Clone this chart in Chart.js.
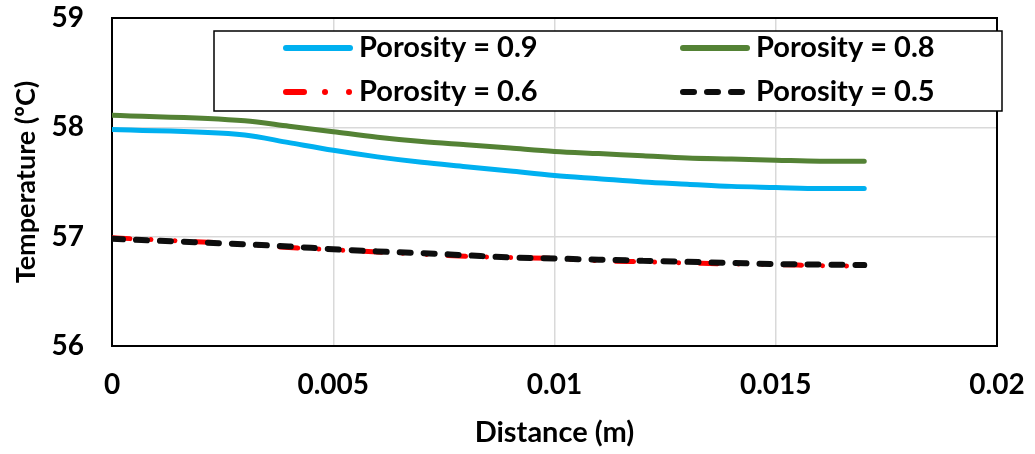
<!DOCTYPE html>
<html>
<head>
<meta charset="utf-8">
<script src="https://cdn.jsdelivr.net/npm/chart.js@4/dist/chart.umd.min.js"></script>
<style>
  html, body { margin: 0; padding: 0; background: #fff; }
  #wrap { width: 1035px; height: 454px; }
</style>
</head>
<body>
<div id="wrap"><canvas id="grafica" width="1035" height="454"></canvas></div>
<script>
// distancia (m)
const distancias = [0, 0.003, 0.004, 0.005, 0.006, 0.007, 0.008, 0.009, 0.010, 0.011, 0.012, 0.013, 0.014, 0.015, 0.016, 0.017];

// temperaturas (ºC)
const poro09 = [57.98, 57.93, 57.86, 57.79, 57.73, 57.68, 57.64, 57.60, 57.56, 57.53, 57.50, 57.48, 57.46, 57.45, 57.44, 57.44];
const poro08 = [58.11, 58.06, 58.01, 57.96, 57.91, 57.87, 57.84, 57.81, 57.78, 57.76, 57.74, 57.72, 57.71, 57.70, 57.69, 57.69];
const poro06 = [56.99, 56.93, 56.90, 56.88, 56.86, 56.84, 56.82, 56.81, 56.80, 56.78, 56.77, 56.76, 56.75, 56.745, 56.735, 56.73];
const poro05 = [56.98, 56.93, 56.91, 56.885, 56.865, 56.85, 56.83, 56.81, 56.80, 56.79, 56.78, 56.77, 56.76, 56.75, 56.745, 56.74];

const etiquetas = ["Porosity = 0.9", "Porosity = 0.8", "Porosity = 0.6", "Porosity = 0.5"];
const xTicks = [0, 0.005, 0.01, 0.015, 0.02];
const yTicks = [56, 57, 58, 59];

const colores = ["#00b0f0", "#548235", "#ff0000", "#0d0d0d"];
const grosores = [5, 5, 5, 6];
const guiones = [[], [], [18, 21, 0.01, 24, 0.01, 21], [11, 13]];

function puntos(valores) {
    return distancias.map((x, i) => ({ x: x, y: valores[i] }));
}

Chart.defaults.font.family = "Lato";
Chart.defaults.font.weight = "bold";
Chart.defaults.color = "#000";

// caja de leyenda y marco del area de trazado
const marcoYLeyenda = {
    id: "marcoYLeyenda",
    beforeDatasetsDraw(chart) {
        const a = chart.chartArea;
        const ctx = chart.ctx;
        ctx.save();
        ctx.strokeStyle = "#000";
        ctx.lineWidth = 2;
        ctx.strokeRect(a.left, a.top, a.right - a.left, a.bottom - a.top);
        ctx.restore();
    },
    afterDatasetsDraw(chart) {
        const ctx = chart.ctx;
        ctx.save();
        ctx.fillStyle = "#fff";
        ctx.fillRect(214, 31, 788, 80);
        ctx.strokeStyle = "#000";
        ctx.lineWidth = 1.5;
        ctx.strokeRect(214, 31, 788, 80);

        const cols = [283, 680];
        const filas = [48, 92];
        chart.data.datasets.forEach((ds, i) => {
            const x = cols[i % 2];
            const y = filas[Math.floor(i / 2)];
            ctx.beginPath();
            ctx.strokeStyle = ds.borderColor;
            ctx.lineWidth = 6;
            ctx.lineCap = "round";
            ctx.setLineDash(ds.borderDash || []);
            ctx.moveTo(x + 3, y);
            ctx.lineTo(x + 67, y);
            ctx.stroke();
            ctx.setLineDash([]);
            ctx.fillStyle = "#000";
            ctx.font = "bold 29px Lato";
            ctx.textBaseline = "middle";
            ctx.textAlign = "left";
            ctx.fillText(ds.label, x + 76, y);
        });
        ctx.restore();
    }
};

const ctx = document.getElementById("grafica").getContext("2d");

new Chart(ctx, {
    type: "line",
    data: {
        datasets: [poro09, poro08, poro06, poro05].map((serie, i) => ({
            label: etiquetas[i],
            data: puntos(serie),
            borderColor: colores[i],
            backgroundColor: colores[i],
            borderWidth: grosores[i],
            borderDash: guiones[i],
            borderCapStyle: "round",
            pointRadius: 0,
            cubicInterpolationMode: "monotone",
            order: [2, 3, 1, 0][i]
        }))
    },
    options: {
        responsive: false,
        animation: false,
        layout: { padding: { top: 18, right: 38, left: 0, bottom: 0 } },
        plugins: {
            legend: { display: false },
            tooltip: { enabled: false }
        },
        scales: {
            x: {
                type: "linear",
                min: 0,
                max: 0.02,
                afterBuildTicks: s => { s.ticks = xTicks.map(v => ({ value: v })); },
                afterFit: s => { s.height = 108; s.paddingLeft = 0; s.paddingRight = 0; },
                ticks: {
                    padding: 22,
                    font: { size: 28, weight: "bold" },
                    callback: v => String(v)
                },
                grid: { color: "#d9d9d9", lineWidth: 1.5, drawTicks: false },
                border: { display: false },
                title: {
                    display: true,
                    text: "Distance (m)",
                    font: { size: 29, weight: "bold" },
                    padding: { top: 0, bottom: 4 }
                }
            },
            y: {
                min: 56,
                max: 59,
                afterBuildTicks: s => { s.ticks = yTicks.map(v => ({ value: v })); },
                afterFit: s => { s.width = 112; s.paddingTop = 0; s.paddingBottom = 0; },
                ticks: {
                    padding: 28,
                    font: { size: 28, weight: "bold" },
                    callback: v => String(v)
                },
                grid: { color: "#d9d9d9", lineWidth: 1.5, drawTicks: false },
                border: { display: false },
                title: {
                    display: true,
                    text: "Temperature (ºC)",
                    font: { size: 27, weight: "bold" },
                    padding: { top: 10, bottom: 0 }
                }
            }
        }
    },
    plugins: [marcoYLeyenda]
});
</script>
</body>
</html>
